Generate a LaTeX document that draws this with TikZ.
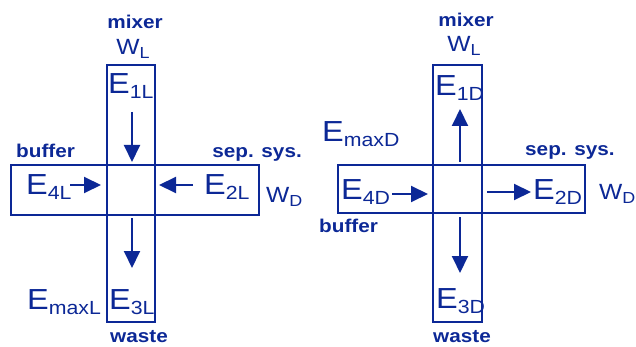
\documentclass[tikz,border=0pt]{standalone}
\usepackage{fontspec}
\setmainfont[FakeStretch=1.12]{Liberation Sans}
\usetikzlibrary{arrows.meta}
\definecolor{dblue}{RGB}{12,40,150}
\newcommand\bigE[1]{{\fontsize{29}{29}\selectfont E\raisebox{-5pt}{\fontsize{19}{19}\selectfont #1}}}
\newcommand\smW[1]{{\fontsize{22}{22}\selectfont W\raisebox{-4pt}{\fontsize{16}{16}\selectfont #1}}}
\tikzset{
  box/.style={draw=dblue,line width=1.5pt},
  lbl/.style={inner sep=0pt,text=dblue,font=\fontsize{18.5}{18.5}\selectfont\bfseries},
  etxt/.style={inner sep=0pt,text=dblue},
  flow/.style={draw=dblue,line width=2pt,-{Triangle[length=17pt,width=16pt]}}
}
\begin{document}
\begin{tikzpicture}[x=1pt,y=-1pt]
\useasboundingbox (0,0) rectangle (636,347);
% ---------- left ----------
\draw[box] (107,65) rectangle (155,322);
\draw[box] (11,165) rectangle (259,215);
\node[lbl,anchor=base] (mixL) at (135,29) {mixer};
\node[etxt,anchor=base] (wL1) at (133,55) {\smW{L}};
\node[etxt,anchor=base west] (e1L) at (108,94) {\bigE{1L}};
\node[lbl,anchor=base west] (bufL) at (16,158) {buffer};
\node[lbl,anchor=base east] (sepL) at (302,158) {sep. sys.};
\node[etxt,anchor=base west] (e4L) at (26,195) {\bigE{4L}};
\node[etxt,anchor=base west] (e2L) at (204,195) {\bigE{2L}};
\node[etxt,anchor=base west] (wDL) at (266,203) {\smW{D}};
\node[etxt,anchor=base west] (e3L) at (109,309) {\bigE{3L}};
\node[etxt,anchor=base west] (emL) at (27,309) {\bigE{maxL}};
\node[lbl,anchor=base] (wasL) at (139,342) {waste};
\coordinate (a1s) at (132,112); \coordinate (a1e) at (132,162);
\coordinate (a2s) at (70,185);  \coordinate (a2e) at (101,185);
\coordinate (a3s) at (193,185); \coordinate (a3e) at (159,185);
\coordinate (a4s) at (132,218); \coordinate (a4e) at (132,268);
\draw[flow] (a1s) -- (a1e);
\draw[flow] (a2s) -- (a2e);
\draw[flow] (a3s) -- (a3e);
\draw[flow] (a4s) -- (a4e);
% ---------- right ----------
\draw[box] (433,65) rectangle (482,322);
\draw[box] (338,165) rectangle (585,213);
\node[lbl,anchor=base] (mixR) at (466,27) {mixer};
\node[etxt,anchor=base] (wLR) at (464,52) {\smW{L}};
\node[etxt,anchor=base west] (e1D) at (435,96) {\bigE{1D}};
\node[etxt,anchor=base west] (emD) at (322,142) {\bigE{maxD}};
\node[lbl,anchor=base west] (sepR) at (525,156) {sep. sys.};
\node[etxt,anchor=base west] (e4D) at (341,200) {\bigE{4D}};
\node[etxt,anchor=base west] (e2D) at (533,200) {\bigE{2D}};
\node[etxt,anchor=base west] (wDR) at (599,200) {\smW{D}};
\node[lbl,anchor=base west] (bufR) at (319,232) {buffer};
\node[etxt,anchor=base west] (e3D) at (436,308) {\bigE{3D}};
\node[lbl,anchor=base] (wasR) at (462,342) {waste};
\coordinate (b1s) at (460,162); \coordinate (b1e) at (460,109);
\coordinate (b2s) at (392,194); \coordinate (b2e) at (428,194);
\coordinate (b3s) at (487,192); \coordinate (b3e) at (531,192);
\coordinate (b4s) at (460,217); \coordinate (b4e) at (460,273);
\draw[flow] (b1s) -- (b1e);
\draw[flow] (b2s) -- (b2e);
\draw[flow] (b3s) -- (b3e);
\draw[flow] (b4s) -- (b4e);
\end{tikzpicture}
\end{document}
